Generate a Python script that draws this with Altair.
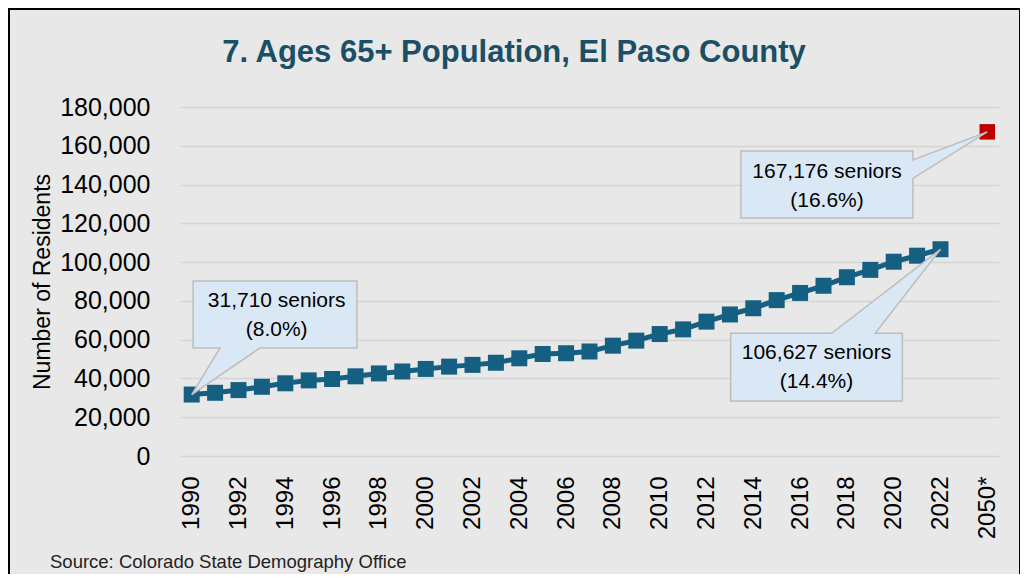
import json
import altair as alt
import pandas as pd

# ---------------- data ----------------
years = [str(y) for y in range(1990, 2023)] + ["", "2050*"]
seniors = [31710, 32600, 34000, 35700, 37500, 39000, 39700, 41100, 42600, 43600,
           44900, 46100, 47000, 48100, 50400, 52600, 53000, 53900, 56900, 59500,
           62900, 65300, 69300, 73000, 76200, 80400, 84100, 87800, 92200, 96000,
           100200, 103300, 106627, None, 167176]
kinds = ["Estimate"] * 33 + ["", "Forecast"]
y_ticks = [0, 20000, 40000, 60000, 80000, 100000, 120000, 140000, 160000, 180000]

title_text = "7. Ages 65+ Population, El Paso County"
source_text = "Source: Colorado State Demography Office"
y_title = "Number of Residents"

# callout shapes (x in category index units, y in residents)
callout_ids = ["c1990", "c2022", "c2050"]
callout_x = [
    [0.06, 7.06, 7.06, 2.92, 0.0, 1.21, 0.06],
    [23.03, 27.35, 32.0, 29.21, 30.37, 30.37, 23.03],
    [23.47, 30.82, 30.82, 34.0, 30.82, 30.82, 23.47],
]
callout_y = [
    [90260, 90260, 55700, 55700, 31710, 55700, 55700],
    [63280, 63280, 106627, 63280, 63280, 28370, 28370],
    [157310, 157310, 152660, 167176, 143230, 122750, 122750],
]
callout_text = ["31,710 seniors\n(8.0%)", "106,627 seniors\n(14.4%)", "167,176 seniors\n(16.6%)"]
callout_text_x = [3.63, 26.7, 27.15]
callout_text_y = [80100, 52970, 146630]   # first line position

# ---------------- tables ----------------
df = pd.DataFrame({"idx": list(range(len(years))), "year": years,
                   "seniors": seniors, "kind": kinds})
est = df[df["kind"] == "Estimate"]
fc = df[df["kind"] == "Forecast"]

poly_rows = []
for cid, xs, ys in zip(callout_ids, callout_x, callout_y):
    for k, (xv, yv) in enumerate(zip(xs, ys)):
        poly_rows.append({"callout": cid, "vertex": k, "x": xv, "y": yv})
poly = pd.DataFrame(poly_rows)
ctext = pd.DataFrame({"callout": callout_ids, "label": callout_text,
                      "x": callout_text_x, "y": callout_text_y})
dummy = pd.DataFrame({"t": [title_text], "s": [source_text]})

# ---------------- scales ----------------
label_expr = json.dumps(years) + "[datum.value]"
xscale = alt.Scale(domain=[-0.5, 34.5], nice=False, zero=False)
yscale = alt.Scale(domain=[0, 180000], nice=False)

xaxis = alt.Axis(values=list(range(0, 35, 2)), labelExpr=label_expr, labelAngle=270,
                 labelFontSize=24, labelFont="Liberation Sans", labelColor="#000000",
                 labelPadding=20, ticks=False, domain=False, grid=False, title=None,
                 labelOverlap=False)
yaxis = alt.Axis(values=y_ticks, format=",d", labelFontSize=25,
                 labelFont="Liberation Sans", labelColor="#000000", labelPadding=30,
                 labelOverlap=False, labelBound=False,
                 ticks=False, domain=False, grid=True, gridColor="#d4d4d4",
                 gridWidth=1.5, title=y_title, titleFont="Liberation Sans",
                 titleFontSize=23, titleFontWeight="normal", titleColor="#000000",
                 titlePadding=5)

NAVY = "#156082"

def X(field):
    return alt.X(field, scale=xscale, axis=xaxis)

def Y(field):
    return alt.Y(field, scale=yscale, axis=yaxis)

line = alt.Chart(est).mark_line(color=NAVY, strokeWidth=5).encode(
    x=X("idx:Q"), y=Y("seniors:Q"))
pts = alt.Chart(est).mark_point(shape="square", filled=True, size=256, color=NAVY,
                                opacity=1).encode(x=X("idx:Q"), y=Y("seniors:Q"))
fpt = alt.Chart(fc).mark_point(shape="square", filled=True, size=240, color="#C00000",
                               opacity=1).encode(x=X("idx:Q"), y=Y("seniors:Q"))

callouts = alt.Chart(poly).mark_line(interpolate="linear-closed", fill="#dae8f5",
                                     stroke="#bdbdbd", strokeWidth=1.5).encode(
    x=X("x:Q"), y=Y("y:Q"), detail="callout:N", order="vertex:Q")
ctexts = alt.Chart(ctext).mark_text(font="Liberation Sans", fontSize=21, color="#000000",
                                    lineBreak="\n", lineHeight=29, align="center",
                                    baseline="middle").encode(
    x=X("x:Q"), y=Y("y:Q"), text="label:N")

title = alt.Chart(dummy).mark_text(font="Liberation Sans", fontSize=31, fontWeight="bold",
                                   color="#1b4f66", align="center",
                                   baseline="alphabetic").encode(
    x=alt.value(334), y=alt.value(-45), text="t:N")
source = alt.Chart(dummy).mark_text(font="Liberation Sans", fontSize=18.5, color="#222222",
                                    align="left", baseline="alphabetic").encode(
    x=alt.value(-130), y=alt.value(461), text="s:N")
border = alt.Chart(dummy).mark_rect(fillOpacity=0, stroke="#000000", strokeWidth=2).encode(
    x=alt.value(-171), x2=alt.value(840), y=alt.value(-98), y2=alt.value(500))

chart = alt.layer(line, pts, fpt, callouts, ctexts, title, source, border).properties(
    width=819, height=349,
    autosize=alt.AutoSizeParams(type="none"),
    padding={"left": 172, "top": 99, "right": 21, "bottom": 118},
    background="#e8e8e8",
).configure_view(stroke=None)

chart.save("out.html", embed_options={"renderer": "svg", "actions": False})
